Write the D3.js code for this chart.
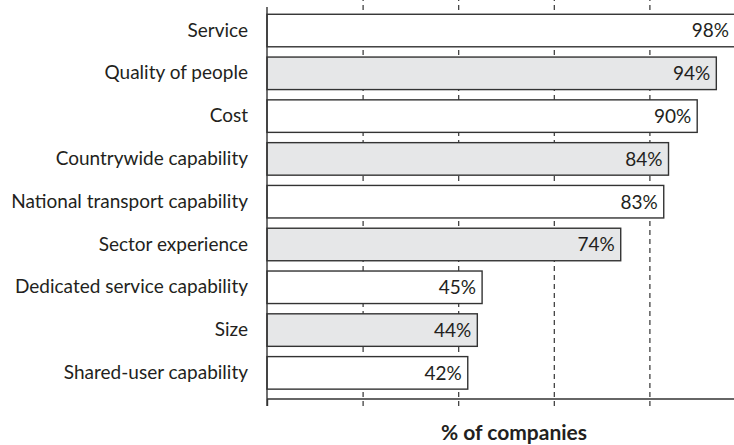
<!DOCTYPE html>
<html>
<head>
<meta charset="utf-8">
<script src="https://cdn.jsdelivr.net/npm/d3@7"></script>
<style>
  body { margin: 0; background: #fff; }
  text { font-family: Lato, "Open Sans", sans-serif; fill: #231f20; }
</style>
</head>
<body>
<div class="canvas"></div>
<script>
const categories = ['Service','Quality of people','Cost','Countrywide capability',
  'National transport capability','Sector experience','Dedicated service capability',
  'Size','Shared-user capability'];
const values = [98, 94, 90, 84, 83, 74, 45, 44, 42];
const gridTicks = [20, 40, 60, 80];
const axisTitle = '% of companies';

const dims = {width: 734, height: 445};
const left = 267, bottom = 399;

const svg = d3.select('.canvas')
  .append('svg')
  .attr('width', dims.width)
  .attr('height', dims.height);

const x = d3.scaleLinear().domain([0, 100]).range([left, 745]);
const y = d3.scaleBand().domain(categories).range([4, 399.4])
  .paddingInner(0.24).paddingOuter(0.24);

// dashed gridlines, running from top down past the bottom axis
const grid = svg.append('g')
  .attr('transform', `translate(0,406)`)
  .call(d3.axisBottom(x).tickValues(gridTicks).tickSize(-406).tickFormat(''));
grid.select('.domain').remove();
grid.selectAll('line')
  .attr('stroke', '#333')
  .attr('stroke-width', 1.2)
  .attr('stroke-dasharray', '5,4');

// bars
const data = categories.map((c, i) => ({name: c, value: values[i], i}));

svg.append('g').selectAll('rect')
  .data(data)
  .enter().append('rect')
  .attr('x', x(0))
  .attr('y', d => y(d.name))
  .attr('width', d => x(d.value) - x(0))
  .attr('height', y.bandwidth())
  .attr('fill', d => d.i % 2 ? '#e6e7e8' : '#fff')
  .attr('stroke', '#333')
  .attr('stroke-width', 1.4);

// value labels inside bar ends
svg.append('g').selectAll('text')
  .data(data)
  .enter().append('text')
  .attr('x', d => Math.min(x(d.value), 735) - 6)
  .attr('y', d => y(d.name) + y.bandwidth() / 2)
  .attr('dy', '0.36em')
  .attr('text-anchor', 'end')
  .attr('font-size', 19)
  .text(d => d.value + '%');

// bottom axis line + small ticks
const xAxis = svg.append('g')
  .attr('transform', `translate(0,${bottom})`)
  .call(d3.axisBottom(x).tickValues([0]).tickSize(7).tickFormat(''));
xAxis.select('.domain').attr('d', `M${left},0H734`).attr('stroke', '#333').attr('stroke-width', 1.4);
xAxis.selectAll('line').attr('stroke', '#333').attr('stroke-width', 1.4);

// vertical axis line
svg.append('line')
  .attr('x1', left).attr('x2', left)
  .attr('y1', 7).attr('y2', 406)
  .attr('stroke', '#333').attr('stroke-width', 1.4);

// category labels
const yAxis = svg.append('g')
  .attr('transform', `translate(${left},0)`)
  .call(d3.axisLeft(y).tickSize(0).tickPadding(19));
yAxis.select('.domain').remove();
yAxis.selectAll('text')
  .attr('font-size', 19)
  .attr('font-family', 'Lato, "Open Sans", sans-serif')
  .attr('fill', '#231f20');

// axis title
svg.append('text')
  .attr('x', 514)
  .attr('y', 440)
  .attr('text-anchor', 'middle')
  .attr('font-size', 21)
  .attr('font-weight', 'bold')
  .text(axisTitle);
</script>
</body>
</html>
